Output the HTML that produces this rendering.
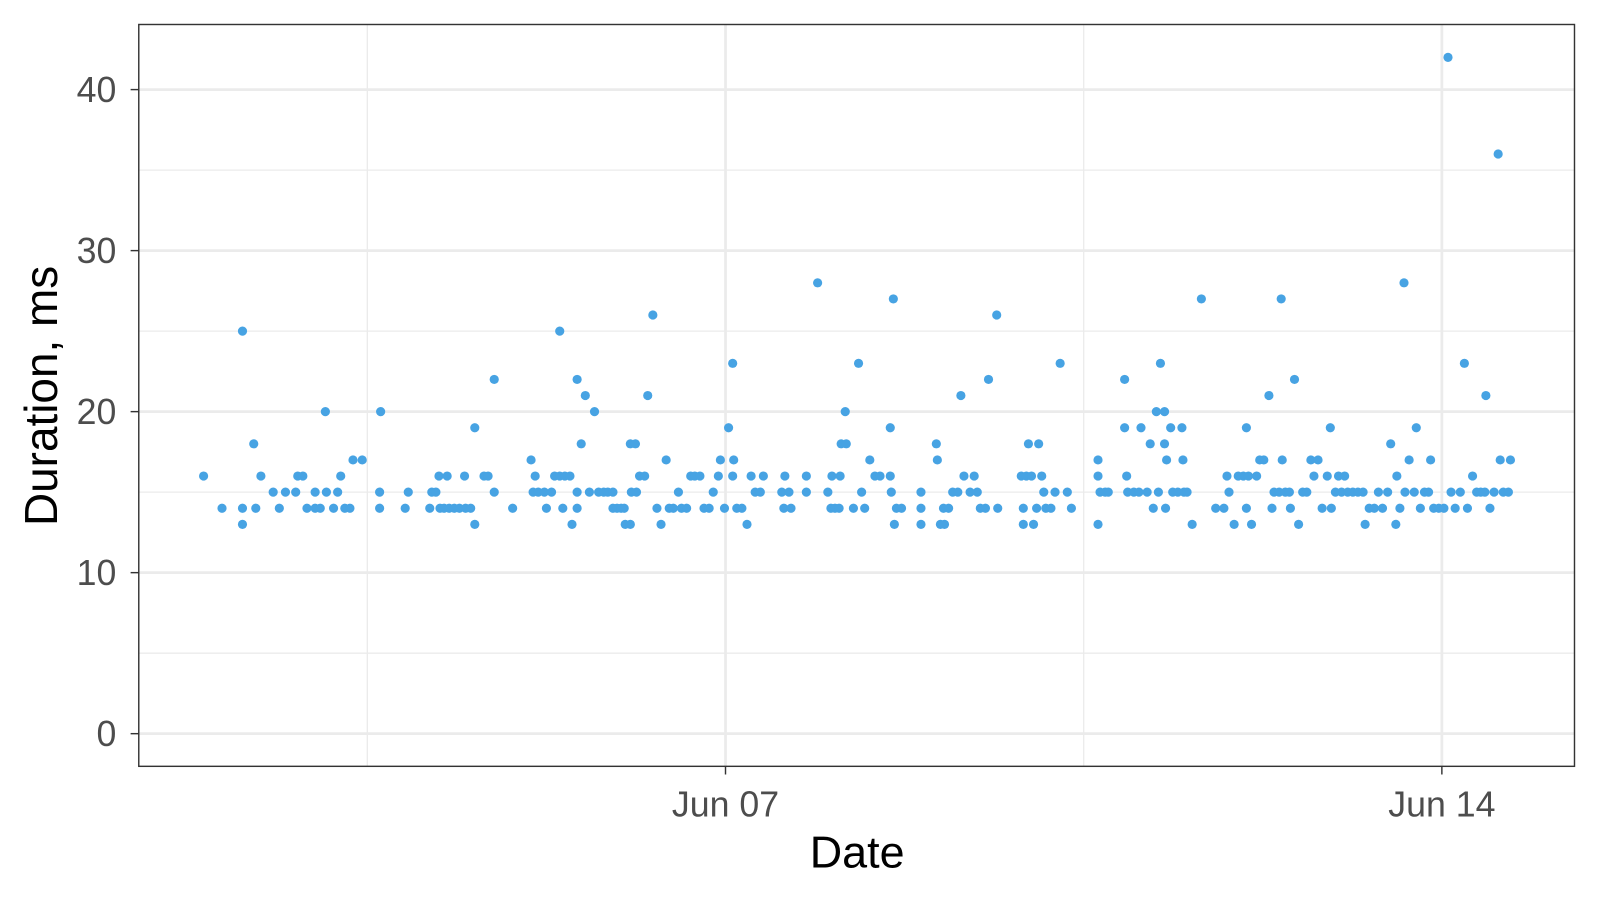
<!DOCTYPE html>
<html><head><meta charset="utf-8"><style>
html,body{margin:0;padding:0;background:#fff;}
svg{display:block;font-family:"Liberation Sans",Arial,sans-serif;}
</style></head><body>
<svg id="chart" width="1600" height="900" viewBox="0 0 1568 882" preserveAspectRatio="none" xmlns="http://www.w3.org/2000/svg">
<rect x="0" y="0" width="1568" height="882" fill="#fff"/>
<g id="grid"></g>
<g id="points"></g>
<rect x="136" y="24" width="1407" height="727" fill="none" stroke="#333" stroke-width="1.4"/>
<g id="axes"></g>
<text x="840" y="850" font-size="44" fill="#000" text-anchor="middle">Date</text>
<text transform="translate(56,388) rotate(-90)" font-size="45" fill="#000" text-anchor="middle">Duration, ms</text>
</svg>
<script>
// days since Jun 01 00:00
const dates=[0.90,1.08,1.28,1.28,1.28,1.39,1.41,1.46,1.58,1.64,1.70,1.80,1.82,1.87,1.91,1.99,1.99,2.04,2.09,2.10,2.17,2.21,2.24,2.28,2.33,2.36,2.45,2.62,2.62,2.63,2.87,2.90,3.11,3.13,3.17,3.20,3.21,3.25,3.28,3.30,3.35,3.40,3.45,3.46,3.51,3.55,3.55,3.64,3.68,3.74,3.74,3.92,
4.10,4.14,4.12,4.17,4.23,4.25,4.30,4.33,4.38,4.43,4.48,4.38,4.41,4.50,4.55,4.55,4.55,4.59,4.63,4.67,4.72,4.76,4.81,4.85,4.90,4.90,4.94,4.98,5.01,5.02,5.07,5.07,5.12,5.08,5.13,5.16,5.21,5.24,5.29,5.33,5.37,5.42,5.45,5.49,5.54,5.57,5.62,5.66,5.70,5.75,5.79,5.84,5.88,5.93,5.95,5.99,
6.03,6.07,6.07,6.08,6.11,6.16,6.21,6.25,6.29,6.34,6.37,6.55,6.58,6.57,6.62,6.64,6.79,6.79,6.90,7.00,7.04,7.03,7.07,7.11,7.13,7.18,7.12,7.17,7.25,7.30,7.33,7.36,7.41,7.46,7.51,7.61,7.61,7.62,7.65,7.64,7.67,7.72,7.91,7.91,7.91,
8.06,8.07,8.10,8.14,8.13,8.18,8.22,8.27,8.30,8.33,8.43,8.39,8.46,8.49,8.54,8.57,8.65,8.66,8.89,8.94,8.91,8.91,8.96,9.06,8.99,9.01,9.04,9.09,9.11,9.13,9.18,9.22,9.27,9.34,9.38,
9.64,9.64,9.64,9.66,9.71,9.74,9.90,9.90,9.92,9.93,9.99,10.04,10.06,10.12,10.15,10.18,10.21,10.29,10.23,10.25,10.29,10.31,10.30,10.35,10.37,10.42,10.46,10.47,10.48,10.51,10.56,10.65,
10.79,10.87,10.90,10.92,10.97,11.01,11.06,11.11,11.09,11.09,11.14,11.19,11.22,11.26,11.31,11.34,11.36,11.41,11.43,11.44,11.47,11.51,11.52,11.56,11.60,11.64,11.68,11.72,11.75,11.79,11.83,11.92,11.88,11.91,11.96,11.99,12.05,
12.02,12.08,12.13,12.18,12.23,12.25,12.29,12.34,12.38,12.42,12.47,12.50,12.55,12.56,12.59,12.63,12.64,12.68,12.73,12.75,12.79,12.83,12.87,12.89,12.92,12.97,13.02,13.06,13.09,13.13,13.18,13.22,13.25,13.30,13.34,13.38,13.42,13.43,13.47,13.51,13.55,13.57,13.60,13.65,13.67];
const durations=[16,14,25,14,13,18,14,16,15,14,15,15,16,16,14,15,14,14,20,15,14,15,16,14,14,17,17,15,14,20,14,15,14,15,15,16,14,14,16,14,14,14,16,14,14,19,13,16,16,22,15,14,
17,16,15,15,15,14,15,16,16,16,16,25,14,13,22,15,14,18,21,15,20,15,15,15,15,14,14,14,14,13,13,18,18,15,15,16,16,21,26,14,13,17,14,14,15,14,14,16,16,16,14,14,15,16,17,14,
19,23,16,17,14,14,13,16,15,15,16,15,16,14,15,14,16,15,28,15,16,14,14,14,18,18,16,20,14,23,15,14,17,16,16,16,19,15,13,27,14,14,15,14,13,
18,17,13,13,14,14,15,15,21,16,16,15,15,14,14,22,26,14,16,16,14,13,18,18,16,13,14,16,15,14,14,15,23,15,14,
13,16,17,15,15,15,22,19,16,15,15,15,19,15,18,14,20,20,15,23,18,17,14,19,15,15,19,17,15,15,13,27,
14,14,16,15,13,16,16,16,19,14,13,16,17,17,21,14,15,15,27,17,15,15,14,22,13,15,15,17,16,17,14,14,16,19,15,16,16,
15,15,15,15,15,13,14,14,15,14,15,18,13,16,14,28,15,17,15,19,14,15,15,17,14,14,14,42,15,14,15,23,14,16,15,15,15,21,14,15,36,17,15,15,17];
const yTicks=[0,10,20,30,40];
const yMinor=[5,15,25,35];
const xTickDays=[6,13];
const xTickLabels=["Jun 07","Jun 14"];
const xMinorDays=[2.5,9.5];

const NS="http://www.w3.org/2000/svg";
const X=d=>711+(d-6)*100.29;
const Y=v=>719-v*15.78;
function mk(tag,attrs,parent){const e=document.createElementNS(NS,tag);for(const k in attrs)e.setAttribute(k,attrs[k]);parent.appendChild(e);return e;}
const grid=document.getElementById('grid'),pts=document.getElementById('points'),axes=document.getElementById('axes');
yMinor.forEach(v=>{const l=mk('line',{x1:136,x2:1543,y1:Y(v),y2:Y(v),stroke:'#ebebeb','stroke-width':1.3},grid);

});
xMinorDays.forEach(d=>{const l=mk('line',{x1:X(d),x2:X(d),y1:24,y2:751,stroke:'#ebebeb','stroke-width':1.3},grid);

});
yTicks.forEach(v=>{const l=mk('line',{x1:136,x2:1543,y1:Y(v),y2:Y(v),stroke:'#ebebeb','stroke-width':2.7},grid);


const t=mk('line',{x1:128,x2:136,y1:Y(v),y2:Y(v),stroke:'#333','stroke-width':1.4},axes);


const tx=mk('text',{x:114,y:Y(v)+12,'font-size':35,fill:'#4d4d4d','text-anchor':'end'},axes);tx.textContent=v;

});
xTickDays.forEach((d,i)=>{const l=mk('line',{x1:X(d),x2:X(d),y1:24,y2:751,stroke:'#ebebeb','stroke-width':2.7},grid);


const t=mk('line',{x1:X(d),x2:X(d),y1:751,y2:759,stroke:'#333','stroke-width':1.4},axes);


const tx=mk('text',{x:X(d),y:800,'font-size':35,fill:'#4d4d4d','text-anchor':'middle'},axes);tx.textContent=xTickLabels[i];

});
dates.forEach((d,i)=>{const c=mk('circle',{cx:X(d),cy:Y(durations[i]),r:4.5,fill:'#47a3e3'},pts);

});
</script>
</body></html>
